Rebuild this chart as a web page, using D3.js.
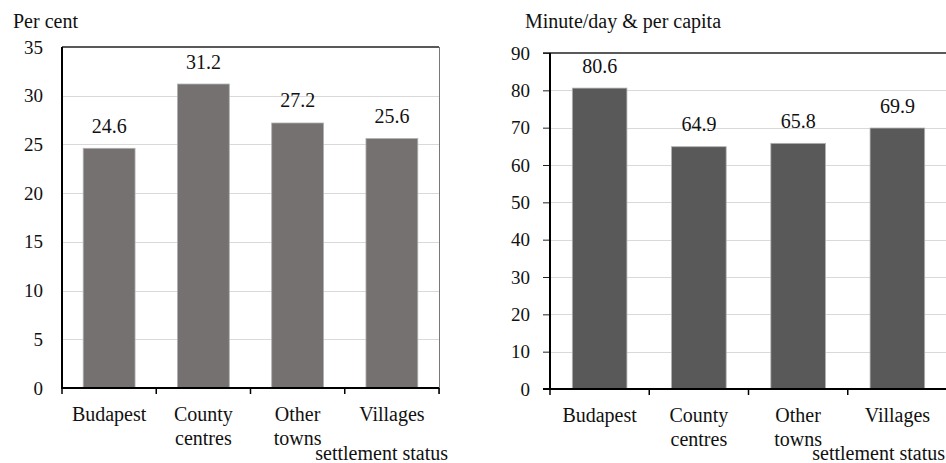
<!DOCTYPE html>
<html>
<head>
<meta charset="utf-8">
<script src="https://cdn.jsdelivr.net/npm/d3@7"></script>
<style>
  html, body { margin: 0; padding: 0; background: #fff; }
  svg { display: block; }
  svg text { font-family: "Liberation Serif", "DejaVu Serif", serif !important; fill: #111; }
</style>
</head>
<body>
<svg id="chart" width="946" height="463" font-family="Liberation Serif, serif"></svg>
<script>
// ---- Data ----
const categories = ["Budapest", "County centres", "Other towns", "Villages"];
const categoryLines = [["Budapest"], ["County", "centres"], ["Other", "towns"], ["Villages"]];
const shareValues = [24.6, 31.2, 27.2, 25.6];
const minuteValues = [80.6, 64.9, 65.8, 69.9];
const shareTicks = [0, 5, 10, 15, 20, 25, 30, 35];
const minuteTicks = [0, 10, 20, 30, 40, 50, 60, 70, 80, 90];
const leftTitle = "Per cent";
const rightTitle = "Minute/day & per capita";
const xTitle = "settlement status";

const svg = d3.select("#chart");
const FONT = "Liberation Serif, DejaVu Serif, serif";

function drawChart(cfg) {
  const g = svg.append("g").attr("font-family", FONT);
  const x = d3.scaleBand().domain(categories)
    .range([cfg.x0, cfg.x1]).paddingInner(0.45).paddingOuter(0.225);
  const y = d3.scaleLinear().domain([0, cfg.max]).range([cfg.y0, cfg.y1]);
  const step = x.step();
  const off = (step - x.bandwidth()) / 2;

  // gridlines
  g.append("g").selectAll("line").data(cfg.ticks.filter(t => t > 0 && t < cfg.max))
    .join("line")
    .attr("x1", cfg.x0).attr("x2", cfg.gridEnd)
    .attr("y1", d => Math.round(y(d)) + 0.5).attr("y2", d => Math.round(y(d)) + 0.5)
    .attr("stroke", "#d9d9d9").attr("stroke-width", 1);

  // top frame line
  g.append("line")
    .attr("x1", cfg.x0 - cfg.tickLen).attr("x2", cfg.gridEnd)
    .attr("y1", y(cfg.max)).attr("y2", y(cfg.max))
    .attr("stroke", "#222").attr("stroke-width", 1.5);

  // right frame line (left chart)
  if (cfg.rightFrame) {
    g.append("line")
      .attr("x1", cfg.x1 + 0.5).attr("x2", cfg.x1 + 0.5)
      .attr("y1", y(cfg.max)).attr("y2", y(0) + 6)
      .attr("stroke", "#777").attr("stroke-width", 1);
  }

  // bars
  g.append("g").selectAll("rect").data(cfg.values)
    .join("rect")
    .attr("x", (d, i) => x(categories[i]))
    .attr("width", x.bandwidth())
    .attr("y", d => y(d))
    .attr("height", d => y(0) - y(d))
    .attr("fill", cfg.color)
    .attr("stroke", "#b0b0b0").attr("stroke-width", 0.8);

  // data labels
  g.append("g").selectAll("text").data(cfg.values)
    .join("text")
    .attr("x", (d, i) => x(categories[i]) + x.bandwidth() / 2)
    .attr("y", d => y(d) - 15.5)
    .attr("text-anchor", "middle")
    .attr("font-size", 20)
    .attr("font-family", FONT)
    .text(d => d.toFixed(1));

  // y axis
  const yAxis = d3.axisLeft(y).tickValues(cfg.ticks)
    .tickSize(cfg.tickLen).tickPadding(cfg.tickPad).tickFormat(d3.format("d"));
  const ya = g.append("g").attr("transform", `translate(${cfg.x0},0)`).call(yAxis)
    .attr("font-family", FONT);
  ya.select(".domain").remove();
  ya.selectAll(".tick line").attr("stroke", "#222");
  ya.selectAll(".tick text").attr("font-size", 19).attr("fill", "#111")
    .attr("font-family", FONT);
  g.append("line")
    .attr("x1", cfg.x0).attr("x2", cfg.x0)
    .attr("y1", y(cfg.max)).attr("y2", y(0) + 1)
    .attr("stroke", "#000").attr("stroke-width", 2);

  // x axis line
  g.append("line")
    .attr("x1", cfg.x0 - cfg.tickLen).attr("x2", cfg.gridEnd)
    .attr("y1", y(0)).attr("y2", y(0))
    .attr("stroke", "#000").attr("stroke-width", 2);

  // x boundary ticks
  const bounds = categories.map(c => x(c) - off).concat([cfg.x1]);
  g.append("g").selectAll("line").data(bounds)
    .join("line")
    .attr("x1", d => d).attr("x2", d => d)
    .attr("y1", y(0)).attr("y2", y(0) + 6)
    .attr("stroke", "#000").attr("stroke-width", 1.5);

  // category labels
  const cl = g.append("g").selectAll("text").data(categoryLines)
    .join("text")
    .attr("text-anchor", "middle")
    .attr("font-size", 20)
    .attr("font-family", FONT)
    .attr("x", (d, i) => x(categories[i]) + x.bandwidth() / 2)
    .attr("y", y(0) + 33);
  cl.selectAll("tspan").data(d => d).join("tspan")
    .attr("x", function () { return d3.select(this.parentNode).attr("x"); })
    .attr("dy", (d, j) => j === 0 ? 0 : 24)
    .text(d => d);

  // axis titles
  g.append("text").attr("x", cfg.titleX).attr("y", 28)
    .attr("font-size", 20).attr("font-family", FONT).text(cfg.title);
  g.append("text").attr("x", cfg.xTitleEnd).attr("y", 460)
    .attr("text-anchor", "end").attr("font-size", 20).attr("font-family", FONT).text(xTitle);
}

drawChart({
  x0: 62, x1: 439, gridEnd: 439, y0: 388, y1: 47, max: 35,
  ticks: shareTicks, values: shareValues, color: "#767171",
  tickLen: 0, tickPad: 19, rightFrame: true,
  title: leftTitle, titleX: 13, xTitleEnd: 448
});

drawChart({
  x0: 550, x1: 947, gridEnd: 946, y0: 389, y1: 53, max: 90,
  ticks: minuteTicks, values: minuteValues, color: "#595959",
  tickLen: 7, tickPad: 13, rightFrame: false,
  title: rightTitle, titleX: 525, xTitleEnd: 945
});
</script>
</body>
</html>
